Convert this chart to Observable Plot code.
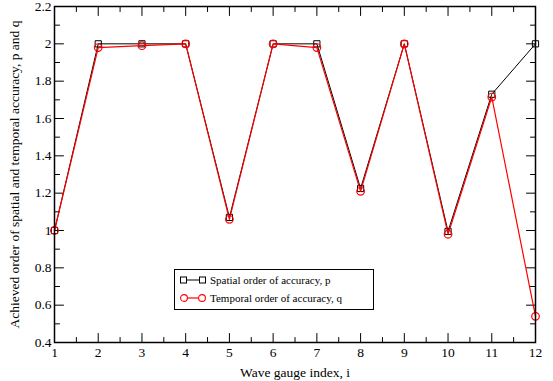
<!DOCTYPE html>
<html>
<head>
<meta charset="utf-8">
<script src="https://cdn.jsdelivr.net/npm/d3@7"></script>
<script src="https://cdn.jsdelivr.net/npm/@observablehq/plot@0.6"></script>
<style>
  html, body { margin: 0; padding: 0; background: #fff; }
  #wrap { position: relative; width: 553px; height: 381px; font-family: "Liberation Serif", "Times New Roman", serif; }
  #legend { position: absolute; left: 174px; top: 269px; width: 200px; height: 41px; border: 1px solid #000; background: #fff; box-sizing: border-box; font-size: 11px; color: #000; }
  #legend .row { position: absolute; left: 5px; display: flex; align-items: center; height: 16px; white-space: nowrap; }
  #legend svg { margin-right: 4px; }
</style>
</head>
<body>
<div id="wrap"></div>
<script>
// ---- data ----
const gauges = [1, 2, 3, 4, 5, 6, 7, 8, 9, 10, 11, 12];
const spatialP = [1.0, 2.0, 2.0, 2.0, 1.07, 2.0, 2.0, 1.225, 2.0, 0.995, 1.73, 2.0];
const temporalQ = [1.0, 1.98, 1.99, 2.0, 1.06, 2.0, 1.98, 1.21, 2.0, 0.98, 1.715, 0.54];
const seriesNames = ["Spatial order of accuracy, p", "Temporal order of accuracy, q"];
const seriesColors = ["#000000", "#ff0000"];
const xMajorTicks = [1, 2, 3, 4, 5, 6, 7, 8, 9, 10, 11, 12];
const xMinorTicks = [1.5, 2.5, 3.5, 4.5, 5.5, 6.5, 7.5, 8.5, 9.5, 10.5, 11.5];
const yMajorTicks = [0.4, 0.6, 0.8, 1.0, 1.2, 1.4, 1.6, 1.8, 2.0, 2.2];
const yMinorTicks = [0.5, 0.7, 0.9, 1.1, 1.3, 1.5, 1.7, 1.9, 2.1];
const xLabel = "Wave gauge index, i";
const yLabel = "Achieved order of spatial and temporal accuracy, p and q";

const pData = gauges.map((g, i) => ({x: g, y: spatialP[i]}));
const qData = gauges.map((g, i) => ({x: g, y: temporalQ[i]}));

const tickShape = { draw(context, l) { context.moveTo(0, 0); context.lineTo(0, -l); } };
const MAJ = 9, MIN = 5;
function ticks(data, axis, len) {
  const out = [];
  if (axis === "x") {
    out.push(Plot.vector(data, {x: d => d, frameAnchor: "bottom", rotate: 0, length: len, anchor: "start", shape: tickShape, stroke: "#000", strokeWidth: 1}));
    out.push(Plot.vector(data, {x: d => d, frameAnchor: "top", rotate: 180, length: len, anchor: "start", shape: tickShape, stroke: "#000", strokeWidth: 1}));
  } else {
    out.push(Plot.vector(data, {y: d => d, frameAnchor: "left", rotate: 90, length: len, anchor: "start", shape: tickShape, stroke: "#000", strokeWidth: 1}));
    out.push(Plot.vector(data, {y: d => d, frameAnchor: "right", rotate: -90, length: len, anchor: "start", shape: tickShape, stroke: "#000", strokeWidth: 1}));
  }
  return out;
}

const chart = Plot.plot({
  width: 553,
  height: 381,
  marginLeft: 54,
  marginRight: 18,
  marginTop: 6,
  marginBottom: 39,
  style: { fontFamily: "'Liberation Serif', 'Times New Roman', serif", fontSize: "13.5px", background: "#fff", color: "#000", overflow: "visible" },
  x: { domain: [1, 12] },
  y: { domain: [0.4, 2.2] },
  marks: [
    Plot.axisX({ticks: xMajorTicks, tickSize: 0, tickPadding: 5, tickFormat: d => String(d), label: xLabel, labelAnchor: "center", labelArrow: "none", labelOffset: 34, fontSize: 13.5}),
    Plot.axisY({ticks: yMajorTicks, tickSize: 0, tickPadding: 3, tickFormat: d => String(Math.round(d * 10) / 10), label: yLabel, labelAnchor: "center", labelArrow: "none", labelOffset: 45, fontSize: 13.5}),
    ...ticks(xMajorTicks, "x", MAJ),
    ...ticks(xMinorTicks, "x", MIN),
    ...ticks(yMajorTicks, "y", MAJ),
    ...ticks(yMinorTicks, "y", MIN),
    Plot.line(pData, {x: "x", y: "y", stroke: seriesColors[0], strokeWidth: 1}),
    Plot.dot(pData, {x: "x", y: "y", symbol: "square", r: 3.5, stroke: seriesColors[0], fill: "none", strokeWidth: 1}),
    Plot.line(qData, {x: "x", y: "y", stroke: seriesColors[1], strokeWidth: 1.2}),
    Plot.dot(qData, {x: "x", y: "y", symbol: "circle", r: 3.8, stroke: seriesColors[1], fill: "none", strokeWidth: 1.2}),
    Plot.frame({stroke: "#000", strokeWidth: 1.5})
  ]
});

const wrap = document.getElementById("wrap");
wrap.appendChild(chart);

// legend (HTML overlay)
const legend = document.createElement("div");
legend.id = "legend";
const symbolSvgs = [
  `<svg width="26" height="10"><line x1="3.5" y1="5" x2="22.5" y2="5" stroke="${seriesColors[0]}" stroke-width="1"/><rect x="0.5" y="2" width="6" height="6" fill="#fff" stroke="${seriesColors[0]}"/><rect x="19.5" y="2" width="6" height="6" fill="#fff" stroke="${seriesColors[0]}"/></svg>`,
  `<svg width="26" height="10"><line x1="4" y1="5" x2="22" y2="5" stroke="${seriesColors[1]}" stroke-width="1.2"/><circle cx="4" cy="5" r="3.4" fill="#fff" stroke="${seriesColors[1]}" stroke-width="1.1"/><circle cx="22" cy="5" r="3.4" fill="#fff" stroke="${seriesColors[1]}" stroke-width="1.1"/></svg>`
];
const rowTops = [2, 20];
seriesNames.forEach((name, i) => {
  const row = document.createElement("div");
  row.className = "row";
  row.style.top = rowTops[i] + "px";
  row.innerHTML = symbolSvgs[i] + `<span>${name}</span>`;
  legend.appendChild(row);
});
wrap.appendChild(legend);
</script>
</body>
</html>
